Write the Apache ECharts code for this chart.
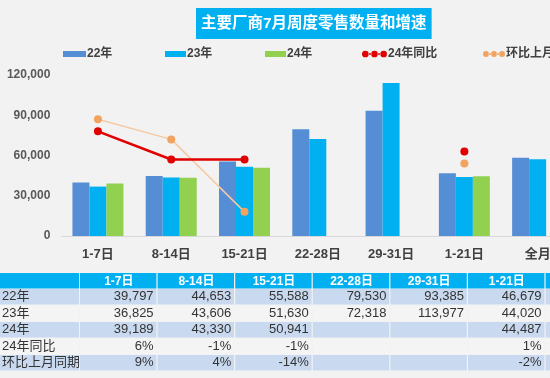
<!DOCTYPE html>
<html><head><meta charset="utf-8">
<script src="https://cdn.jsdelivr.net/npm/echarts@6/dist/echarts.min.js"></script>
<style>html,body{margin:0;padding:0;background:#F2F2F2}#c{width:550px;height:378px}</style>
</head><body><div id="c"></div>
<script>
const categories = ['1-7日','8-14日','15-21日','22-28日','29-31日','1-21日','全月'];
const s22 = [39797,44653,55588,79530,93385,46679,58400];
const s23 = [36825,43606,51630,72318,113977,44020,57200];
const s24 = [39189,43330,50941,null,null,44487,null];
const yoy24 = [6,-1,-1,null,null,1,null];
const mom = [9,4,-14,null,null,-2,null];
const seriesNames = ['22年','23年','24年','24年同比','环比上月同期'];
const yMin = 0, yMax = 120000, yStep = 30000;

const FONT = '"Liberation Sans", "Noto Sans CJK SC", sans-serif';
const colors = ['#558ED5','#00B0F0','#92D050','#E00000','#F2A360'];
const dots3 = 'path://M0.5,4a3.5,3.5 0 1,0 7,0a3.5,3.5 0 1,0 -7,0Z M10,4a3.5,3.5 0 1,0 7,0a3.5,3.5 0 1,0 -7,0Z M19.5,4a3.5,3.5 0 1,0 7,0a3.5,3.5 0 1,0 -7,0Z M7,3.2h3.5v1.6h-3.5Z M16.5,3.2h3.5v1.6h-3.5Z';

// legends
const legendLefts = [58, 160, 260, 357, 478];
const legendW = [23, 21, 21, 25, 22];
const legends = seriesNames.map((n, i) => ({
  left: legendLefts[i], top: 43,
  itemWidth: legendW[i], itemHeight: i < 3 ? 6 : 8, itemGap: 0,
  data: [{name: n, icon: i < 3 ? 'rect' : dots3,
          itemStyle: {color: colors[i], borderWidth: 0, opacity: 1},
          lineStyle: {width: 0, opacity: 0}}],
  textStyle: {fontFamily: FONT, fontSize: 12, fontWeight: 'bold', color: '#404040', padding: [0,0,0,-4]},
  selectedMode: false
}));

// table
const fmt = v => (v == null ? '' : v.toLocaleString('en-US'));
const pct = v => (v == null ? '' : v + '%');
const rows = [
  ['22年', s22.map(fmt)],
  ['23年', s23.map(fmt)],
  ['24年', s24.map(fmt)],
  ['24年同比', yoy24.map(pct)],
  ['环比上月同期', mom.map(pct)]
];
const tTop = 273, hH = 15.5, rH = 16.5, c0 = 80, cW = 77.6;
const els = [];
els.push({type:'rect', shape:{x:0,y:tTop,width:c0-1,height:hH}, style:{fill:'#00B0F0'}});
categories.forEach((c, j) => {
  const x = c0 + j*cW;
  els.push({type:'rect', shape:{x:x,y:tTop,width:cW-1.2,height:hH}, style:{fill:'#00B0F0'}});
  if (j < 6) els.push({type:'text', style:{text:c, x:x+cW/2, y:tTop+hH/2+0.5, textAlign:'center', textVerticalAlign:'middle', fill:'#fff', fontSize:12, fontWeight:'bold', fontFamily:FONT}});
});
rows.forEach((r, i) => {
  const y = tTop + hH + i*rH;
  const fill = i % 2 === 0 ? '#C9DAF0' : '#F4F4F4';
  els.push({type:'rect', shape:{x:0,y:y+0.5,width:c0-1,height:rH-1}, style:{fill}});
  els.push({type:'text', style:{text:r[0], x:2, y:y+rH/2, textAlign:'left', textVerticalAlign:'middle', fill:'#333', fontSize:13, fontFamily:FONT}});
  r[1].forEach((v, j) => {
    const x = c0 + j*cW;
    els.push({type:'rect', shape:{x:x,y:y+0.5,width:cW-1.2,height:rH-1}, style:{fill}});
    if (j < 6 && v) els.push({type:'text', style:{text:v, x:x+cW-4, y:y+rH/2, textAlign:'right', textVerticalAlign:'middle', fill:'#333', fontSize:13, fontFamily:FONT}});
  });
});

const chart = echarts.init(document.getElementById('c'), null, {renderer:'canvas'});
chart.setOption({
  backgroundColor: '#F2F2F2',
  animation: false,
  title: {
    text: '主要厂商7月周度零售数量和增速', left: 196, top: 8,
    backgroundColor: '#00B0F0', padding: [5.5, 5],
    textStyle: {color: '#fff', fontSize: 15.5, fontWeight: 'bold', fontFamily: FONT, lineHeight: 20}
  },
  legend: legends,
  grid: {left: 61.3, top: 75, width: 513, height: 161, containLabel: false, outerBoundsMode: 'none'},
  xAxis: {
    type: 'category', data: categories,
    axisLine: {lineStyle: {color: '#D9D9D9', width: 1}}, axisTick: {show: false},
    axisLabel: {fontFamily: FONT, fontSize: 13, fontWeight: 'bold', color: '#404040', margin: 12, interval: 0}
  },
  yAxis: [{
    type: 'value', min: yMin, max: yMax, interval: yStep,
    splitLine: {show: false}, axisLine: {show: false}, axisTick: {show: false},
    axisLabel: {fontFamily: FONT, fontSize: 12, fontWeight: 'bold', color: '#595959', margin: 11,
      formatter: v => v.toLocaleString('en-US')}
  }, {
    type: 'value', min: -20, max: 20, show: false, splitLine: {show: false}
  }],
  series: [
    {name: seriesNames[0], type: 'bar', data: s22, barWidth: 17, barGap: '0%', itemStyle: {color: colors[0]}},
    {name: seriesNames[1], type: 'bar', data: s23, barWidth: 17, barGap: '0%', itemStyle: {color: colors[1]}},
    {name: seriesNames[2], type: 'bar', data: s24, barWidth: 17, barGap: '0%', itemStyle: {color: colors[2]}},
    {name: seriesNames[3], type: 'line', yAxisIndex: 1, data: yoy24, symbol: 'circle', symbolSize: 8,
      lineStyle: {color: colors[3], width: 2.5}, itemStyle: {color: colors[3]}, z: 5},
    {name: seriesNames[4], type: 'line', yAxisIndex: 1, data: mom, symbol: 'circle', symbolSize: 8,
      lineStyle: {color: '#F7C9A2', width: 1.5}, itemStyle: {color: colors[4]}, z: 4}
  ],
  graphic: {elements: els}
});
</script></body></html>
